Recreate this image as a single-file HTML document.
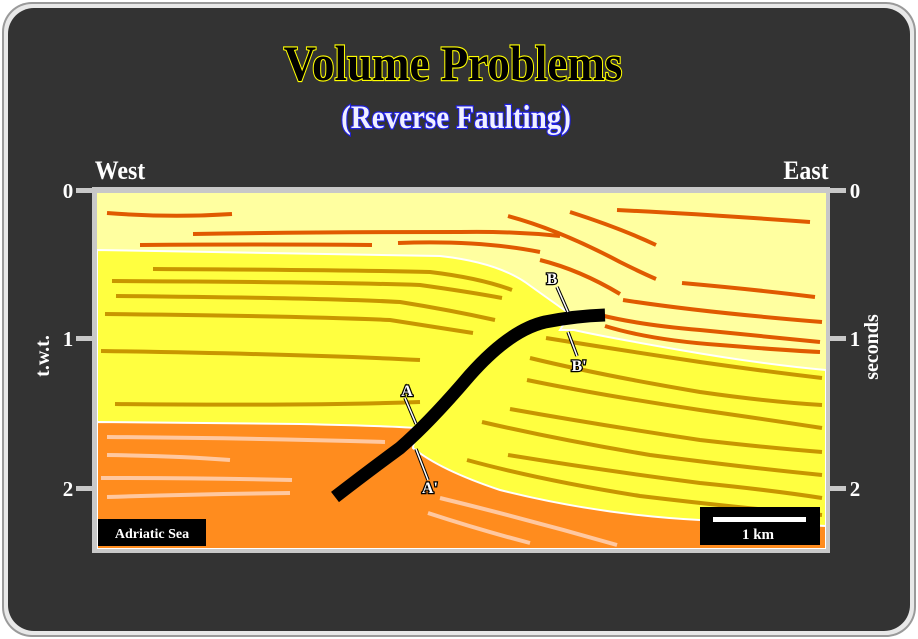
<!DOCTYPE html>
<html><head><meta charset="utf-8"><style>
html,body{margin:0;padding:0;background:#fff;}
svg{display:block;}
text{font-family:"Liberation Serif",serif;font-weight:bold;}
</style></head><body>
<svg width="918" height="639" viewBox="0 0 918 639" xmlns="http://www.w3.org/2000/svg">
<rect x="0" y="0" width="918" height="639" fill="#fff"/>
<rect x="2" y="2" width="914" height="635" rx="30" fill="#9a9a9a"/>
<rect x="4" y="4" width="910" height="631" rx="28" fill="#e8e8e8"/>
<rect x="8" y="8" width="902" height="623" rx="26" fill="#333333"/>

<text x="0" y="0" text-anchor="middle" font-size="50" fill="#000" stroke="#ffff00" stroke-width="2.2" paint-order="stroke" transform="translate(453 80) scale(0.9 1)">Volume Problems</text>
<text x="0" y="0" text-anchor="middle" font-size="33" fill="#f0f0ff" stroke="#2020e0" stroke-width="2.5" paint-order="stroke" transform="translate(456 128) scale(0.88 1)">(Reverse Faulting)</text>
<text x="120" y="179" text-anchor="middle" font-size="26" fill="#fff" transform="translate(120 0) scale(0.92 1) translate(-120 0)">West</text>
<text x="806" y="179" text-anchor="middle" font-size="26" fill="#fff" transform="translate(806 0) scale(0.92 1) translate(-806 0)">East</text>

<rect x="92" y="187" width="738" height="366" fill="#c8c8c8"/>
<rect x="76" y="188" width="18" height="5" fill="#c8c8c8"/>
<rect x="76" y="336" width="18" height="5" fill="#c8c8c8"/>
<rect x="76" y="486" width="18" height="5" fill="#c8c8c8"/>
<rect x="828" y="188" width="18" height="5" fill="#c8c8c8"/>
<rect x="828" y="336" width="18" height="5" fill="#c8c8c8"/>
<rect x="828" y="486" width="18" height="5" fill="#c8c8c8"/>
<g font-size="21" fill="#fff">
<text x="68" y="198" text-anchor="middle">0</text>
<text x="68" y="346" text-anchor="middle">1</text>
<text x="68" y="496" text-anchor="middle">2</text>
<text x="855" y="198" text-anchor="middle">0</text>
<text x="855" y="346" text-anchor="middle">1</text>
<text x="855" y="496" text-anchor="middle">2</text>
</g>
<text transform="translate(49 356) rotate(-90)" text-anchor="middle" font-size="20" fill="#fff">t.w.t.</text>
<text transform="translate(878 347) rotate(-90)" text-anchor="middle" font-size="20" fill="#fff">seconds</text>

<clipPath id="c"><rect x="97" y="193" width="729" height="356"/></clipPath>
<g clip-path="url(#c)">
<rect x="97" y="193" width="729" height="356" fill="#ffffa0"/>
<path d="M97 250 L440 256 Q495 262 525 282 Q550 300 570 314 L560 330 L574 330 Q600 336 680 350 Q760 364 826 370 L826 549 L97 549 Z" fill="#ffff40" stroke="#fff" stroke-width="2"/>
<path d="M97 422 L300 424 Q390 426 416 428 L413 448 Q440 470 500 490 Q600 515 700 520 L826 526 L826 549 L97 549 Z" fill="#ff8c1e" stroke="#fff" stroke-width="2"/>

<g fill="none" stroke="#e05a00" stroke-width="4" stroke-linecap="butt">
<path d="M107 213 Q170 218 232 214"/>
<path d="M193 234 Q320 232 460 232 Q510 231 560 236"/>
<path d="M140 245 Q260 244 372 245"/>
<path d="M398 243 Q480 240 540 252"/>
<path d="M508 216 Q560 230 620 262 Q640 272 656 279"/>
<path d="M570 212 Q620 228 656 245"/>
<path d="M617 210 Q700 214 810 222"/>
<path d="M540 260 Q580 270 620 294"/>
<path d="M682 283 Q760 290 815 297"/>
<path d="M623 300 Q700 312 822 322"/>
<path d="M600 315 Q640 325 700 330 Q780 338 820 342"/>
<path d="M605 326 Q650 340 720 345 Q780 350 820 352"/>
</g>
<g fill="none" stroke="#c89600" stroke-width="4">
<path d="M153 269 Q350 270 430 272 Q480 278 512 290"/>
<path d="M112 281 Q330 282 420 285 Q470 292 502 298"/>
<path d="M116 296 Q330 298 400 302 Q450 310 495 320"/>
<path d="M105 314 Q300 316 390 320 Q440 328 473 333"/>
<path d="M101 351 Q300 354 420 360"/>
<path d="M115 404 Q300 406 420 402"/>
<path d="M546 338 Q620 350 700 362 Q770 372 822 378"/>
<path d="M530 358 Q600 375 700 392 Q770 402 822 405"/>
<path d="M527 380 Q600 395 700 410 Q770 420 822 428"/>
<path d="M510 409 Q600 425 700 440 Q770 448 822 452"/>
<path d="M482 422 Q560 440 650 455 Q750 468 822 475"/>
<path d="M508 455 Q600 470 700 483 Q770 490 822 498"/>
<path d="M467 460 Q540 480 640 496 Q740 508 822 515"/>
</g>
<g fill="none" stroke="#ffc8a0" stroke-width="4">
<path d="M107 437 Q250 438 385 442"/>
<path d="M107 455 Q180 456 230 460"/>
<path d="M101 478 Q200 478 292 480"/>
<path d="M107 497 Q200 494 290 493"/>
<path d="M440 498 Q530 520 617 545"/>
<path d="M428 513 Q480 530 530 543"/>
</g>

<path d="M335 497 Q370 470 400 448 Q430 422 470 375 Q510 330 545 322 Q575 316 605 315" fill="none" stroke="#000" stroke-width="13"/>

<g stroke="#000" stroke-width="3.5" fill="none"><path d="M405 398 L416 424"/><path d="M416 449 L428 480"/><path d="M557 287 L568 312"/><path d="M568 332 L577 356"/></g>
<g stroke="#fff" stroke-width="1.5" fill="none"><path d="M405 398 L416 424"/><path d="M416 449 L428 480"/><path d="M557 287 L568 312"/><path d="M568 332 L577 356"/></g>
<g font-size="16" fill="#fff" stroke="#000" stroke-width="2.5" paint-order="stroke">
<text x="407" y="396" text-anchor="middle">A</text>
<text x="430" y="493" text-anchor="middle">A'</text>
<text x="552" y="284" text-anchor="middle">B</text>
<text x="579" y="371" text-anchor="middle">B'</text>
</g>

<rect x="98" y="519" width="108" height="27" fill="#000"/>
<text x="152" y="538" text-anchor="middle" font-size="14" fill="#fff">Adriatic Sea</text>
<rect x="700" y="507" width="120" height="38" fill="#000"/>
<rect x="713" y="517" width="93" height="5" fill="#fff"/>
<text x="758" y="539" text-anchor="middle" font-size="15" fill="#fff">1 km</text>
</g>
</svg>
</body></html>
